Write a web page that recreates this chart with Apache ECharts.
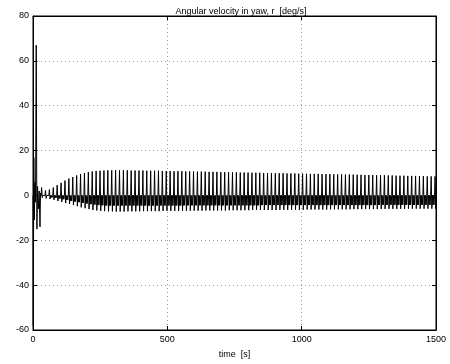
<!DOCTYPE html>
<html>
<head>
<meta charset="utf-8">
<script src="https://cdn.jsdelivr.net/npm/echarts@6/dist/echarts.min.js"></script>
<style>
  html, body { margin: 0; padding: 0; background: #fff; }
  #yawChart { width: 450px; height: 364px; }
</style>
</head>
<body>
<div id="yawChart"></div>
<script>
  // start-up transient
  var transientTime = [0, 1, 3, 5, 7, 9.5, 12, 14.5, 17, 20, 23, 26, 28];
  var transientRate = [0, -58, 17, -11, 6, -3, 67, -15, 4, -6, 2, -14, 1];

  // steady oscillation: one entry per cycle (period ~14.5 s from t = 30 s)
  var cycleStart = 30;
  var cyclePeriod = 14.5;
  var cycleHigh = [
    3.5, 2.2, 2.6, 3.5, 4.6, 5.6, 6.6, 7.5, 8.2, 8.9, 9.5, 10.0, 10.4, 10.7, 10.9, 11.0, 11.1,
    11.2, 11.2, 11.2, 11.2, 11.2, 11.2, 11.1, 11.1, 11.1,
    11.1, 11.0, 11.0, 11.0, 11.0, 10.9, 10.9, 10.9, 10.8, 10.8,
    10.8, 10.7, 10.7, 10.7, 10.6, 10.6, 10.6, 10.5, 10.5, 10.5,
    10.4, 10.4, 10.3, 10.3, 10.3, 10.2, 10.2, 10.2, 10.1, 10.1,
    10.1, 10.0, 10.0, 10.0, 9.9, 9.9, 9.9, 9.8, 9.8, 9.8,
    9.7, 9.7, 9.7, 9.6, 9.6, 9.6, 9.5, 9.5, 9.5, 9.4,
    9.4, 9.4, 9.3, 9.3, 9.3, 9.2, 9.2, 9.1, 9.1, 9.1,
    9.0, 9.0, 9.0, 8.9, 8.9, 8.8, 8.8, 8.8, 8.7, 8.7,
    8.7, 8.6, 8.6, 8.5, 8.5, 8.5
  ];
  var cycleLow = [
    -1.0, -1.3, -1.6, -2.0, -2.5, -2.9, -3.4, -3.8, -4.3, -4.8, -5.3, -5.7, -6.1, -6.5, -6.7, -6.9, -7.0,
    -7.1, -7.1, -7.2, -7.2, -7.2, -7.1, -7.1, -7.1, -7.1,
    -7.0, -7.0, -7.0, -7.0, -7.0, -6.9, -6.9, -6.9, -6.9, -6.9,
    -6.9, -6.8, -6.8, -6.8, -6.8, -6.8, -6.7, -6.7, -6.7, -6.7,
    -6.7, -6.7, -6.6, -6.6, -6.6, -6.6, -6.6, -6.6, -6.5, -6.5,
    -6.5, -6.5, -6.5, -6.5, -6.5, -6.4, -6.4, -6.4, -6.4, -6.4,
    -6.4, -6.4, -6.3, -6.3, -6.3, -6.3, -6.3, -6.3, -6.2, -6.2,
    -6.2, -6.2, -6.2, -6.2, -6.1, -6.1, -6.1, -6.1, -6.1, -6.1,
    -6.1, -6.0, -6.0, -6.0, -6.0, -6.0, -6.0, -6.0, -5.9, -5.9,
    -5.9, -5.9, -5.9, -5.9, -5.9, -5.9
  ];
  var cycleBand = [
    -0.5, -0.7, -0.9, -1.1, -1.4, -1.7, -2.0, -2.4, -2.7, -3.0, -3.3, -3.6, -3.9, -4.1, -4.3, -4.4, -4.5,
    -4.5, -4.5, -4.5, -4.5, -4.5, -4.5, -4.5, -4.5, -4.5,
    -4.5, -4.5, -4.5, -4.5, -4.5, -4.5, -4.5, -4.5, -4.5, -4.5,
    -4.4, -4.4, -4.4, -4.4, -4.4, -4.4, -4.4, -4.4, -4.4, -4.4,
    -4.4, -4.4, -4.4, -4.4, -4.4, -4.4, -4.4, -4.4, -4.4, -4.4,
    -4.3, -4.3, -4.3, -4.3, -4.3, -4.3, -4.3, -4.3, -4.3, -4.3,
    -4.3, -4.3, -4.3, -4.3, -4.3, -4.3, -4.3, -4.3, -4.3, -4.3,
    -4.3, -4.3, -4.3, -4.3, -4.3, -4.3, -4.3, -4.3, -4.3, -4.3,
    -4.2, -4.2, -4.2, -4.2, -4.2, -4.2, -4.2, -4.2, -4.2, -4.2,
    -4.2, -4.2, -4.2, -4.2, -4.2, -4.2
  ];
  var bandTop = 0;

  var xTicks = [0, 1500, 500];   // min, max, step
  var yTicks = [-60, 80, 20];

  var points = [];
  for (var k = 0; k < transientTime.length; k++) {
    points.push([transientTime[k], transientRate[k]]);
  }
  for (var i = 0; i < cycleHigh.length; i++) {
    var s = cycleStart + i * cyclePeriod;
    points.push([s, bandTop]);
    points.push([s + 2, cycleHigh[i]]);
    points.push([s + 4.5, cycleLow[i]]);
    points.push([s + 6.5, bandTop]);
    points.push([s + 8.5, cycleBand[i]]);
    points.push([s + 10.5, bandTop]);
    points.push([s + 12.5, cycleBand[i]]);
  }

  var font = 'Liberation Sans, Arial, Helvetica, sans-serif';
  var dotted = { color: '#9a9a9a', width: 1, type: [1, 3] };
  var plain = function (v) { return String(v); };

  function mainAxis (ticks, extra) {
    var ax = {
      type: 'value',
      min: ticks[0],
      max: ticks[1],
      interval: ticks[2],
      axisLine: { show: true, onZero: false, lineStyle: { color: '#000', width: 1 } },
      axisTick: { show: true, inside: true, length: 4, lineStyle: { color: '#000' } },
      splitLine: { show: true, lineStyle: dotted }
    };
    for (var key in extra) { ax[key] = extra[key]; }
    return ax;
  }

  function mirrorAxis (ticks, pos) {
    return {
      type: 'value',
      position: pos,
      min: ticks[0],
      max: ticks[1],
      interval: ticks[2],
      axisLine: { show: true, onZero: false, lineStyle: { color: '#000', width: 1 } },
      axisTick: { show: true, inside: true, length: 4, lineStyle: { color: '#000' } },
      axisLabel: { show: false },
      splitLine: { show: false }
    };
  }

  var myChart = echarts.init(document.getElementById('yawChart'));
  myChart.setOption({
    animation: false,
    backgroundColor: '#fff',
    title: {
      text: 'Angular velocity in yaw, r  [deg/s]',
      left: 236,
      top: 2,
      textAlign: 'center',
      textStyle: { fontSize: 9, fontWeight: 'normal', color: '#000', fontFamily: font }
    },
    grid: { left: 33, right: 14, top: 16, bottom: 31, show: true, borderColor: '#000', borderWidth: 1 },
    xAxis: [
      mainAxis(xTicks, {
        position: 'bottom',
        name: 'time  [s]',
        nameLocation: 'middle',
        nameGap: 20,
        nameTextStyle: { fontSize: 9, color: '#000', fontFamily: font },
        axisLabel: { color: '#000', fontSize: 9, fontFamily: font, margin: 5, formatter: plain }
      }),
      mirrorAxis(xTicks, 'top')
    ],
    yAxis: [
      mainAxis(yTicks, {
        position: 'left',
        axisLabel: { color: '#000', fontSize: 9, fontFamily: font, margin: 4, formatter: plain }
      }),
      mirrorAxis(yTicks, 'right')
    ],
    series: [
      {
        name: 'r',
        type: 'line',
        data: points,
        showSymbol: false,
        clip: true,
        lineStyle: { color: '#000', width: 1 },
        xAxisIndex: 0,
        yAxisIndex: 0
      }
    ]
  });
</script>
</body>
</html>
